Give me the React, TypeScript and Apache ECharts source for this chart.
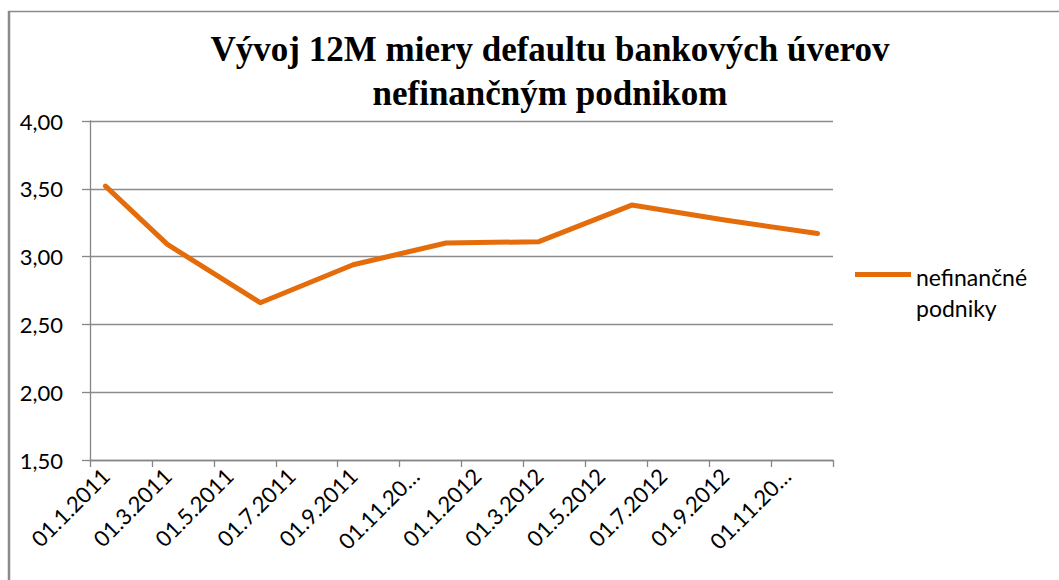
import React, { useEffect, useRef } from "react";
import * as echarts from "echarts";

const titleLines = ["Vývoj 12M miery defaultu bankových úverov", "nefinančným podnikom"];
const seriesName = "nefinančné podniky";
const legendLines = ["nefinančné", "podniky"];
const months = [
  "01.1.2011", "01.2.2011", "01.3.2011", "01.4.2011", "01.5.2011", "01.6.2011",
  "01.7.2011", "01.8.2011", "01.9.2011", "01.10.2011", "01.11.2011", "01.12.2011",
  "01.1.2012", "01.2.2012", "01.3.2012", "01.4.2012", "01.5.2012", "01.6.2012",
  "01.7.2012", "01.8.2012", "01.9.2012", "01.10.2012", "01.11.2012", "01.12.2012",
];
const pointDates = [
  "01.1.2011", "01.3.2011", "01.6.2011", "01.9.2011", "01.12.2011",
  "01.3.2012", "01.6.2012", "01.9.2012", "01.12.2012",
];
const pointValues = [3.52, 3.09, 2.66, 2.94, 3.1, 3.11, 3.38, 3.27, 3.17];
const yMin = 1.5;
const yMax = 4.0;
const yStep = 0.5;

const LABEL_FONT = "Lato, 'Open Sans', sans-serif";

export default function App() {
  const ref = useRef<HTMLDivElement>(null);
  useEffect(() => {
    if (!ref.current) return;
    const chart = echarts.init(ref.current, undefined, { renderer: "svg" });
    chart.setOption({
      animation: false,
      backgroundColor: "#ffffff",
      title: {
        text: titleLines.join("\n"),
        left: 545,
        top: 22,
        textAlign: "center",
        textStyle: {
          fontFamily: "'Liberation Serif', 'Times New Roman', serif",
          fontWeight: "bold",
          fontSize: 35,
          lineHeight: 44,
          color: "#000",
        },
      },
      graphic: [
        { type: "line", shape: { x1: 8, y1: 11.5, x2: 1059, y2: 11.5 }, style: { stroke: "#8a8a8a", lineWidth: 1.3 } },
        { type: "line", shape: { x1: 9, y1: 11, x2: 9, y2: 580 }, style: { stroke: "#8a8a8a", lineWidth: 2.5 } },
      ],
      legend: {
        left: 850,
        top: 256,
        orient: "vertical",
        itemWidth: 56,
        itemHeight: 62,
        itemGap: 0,
        icon: "path://M0,11 L56,11 L56,16 L0,16 Z M0,0 L0.001,0 L0.001,0.001 Z M0,62 L0.001,62 L0.001,62.001 Z",
        formatter: () => legendLines.join("\n"),
        textStyle: {
          fontFamily: LABEL_FONT,
          fontSize: 23,
          lineHeight: 31,
          color: "#000",
        },
        data: [{ name: seriesName, itemStyle: { color: "#E46C0A" } }],
      },
      grid: { left: 90, right: 226, top: 121, bottom: 120, containLabel: false },
      xAxis: {
        type: "category",
        data: months,
        boundaryGap: true,
        axisLine: { show: true, lineStyle: { color: "#868686", width: 1.3 } },
        axisTick: { show: true, interval: 1, alignWithLabel: false, length: 7, lineStyle: { color: "#868686", width: 1.3 } },
        axisLabel: {
          interval: 1,
          rotate: 45,
          margin: 12,
          fontFamily: LABEL_FONT,
          fontSize: 22,
          color: "#000",
          formatter: (v: string) => (v.length > 9 ? v.slice(0, 8) + "…" : v),
        },
        splitLine: { show: false },
      },
      yAxis: {
        type: "value",
        min: yMin,
        max: yMax,
        interval: yStep,
        axisLine: { show: true, lineStyle: { color: "#868686", width: 1.3 } },
        axisTick: { show: true, length: 8, lineStyle: { color: "#868686", width: 1.3 } },
        axisLabel: {
          margin: 27,
          fontFamily: LABEL_FONT,
          fontSize: 22,
          color: "#000",
          formatter: (v: number) => v.toFixed(2).replace(".", ","),
        },
        splitLine: { show: true, lineStyle: { color: "#8c8c8c", width: 1.3 } },
      },
      series: [
        {
          name: seriesName,
          type: "line",
          data: pointDates.map((d, i) => [d, pointValues[i]]),
          symbol: "none",
          lineStyle: { color: "#E46C0A", width: 5, cap: "round", join: "round" },
          itemStyle: { color: "#E46C0A" },
        },
      ],
    });
    return () => chart.dispose();
  }, []);
  return (
    <div
      ref={ref}
      style={{ position: "absolute", left: 0, top: 0, width: 1059, height: 580, background: "#fff" }}
    />
  );
}
